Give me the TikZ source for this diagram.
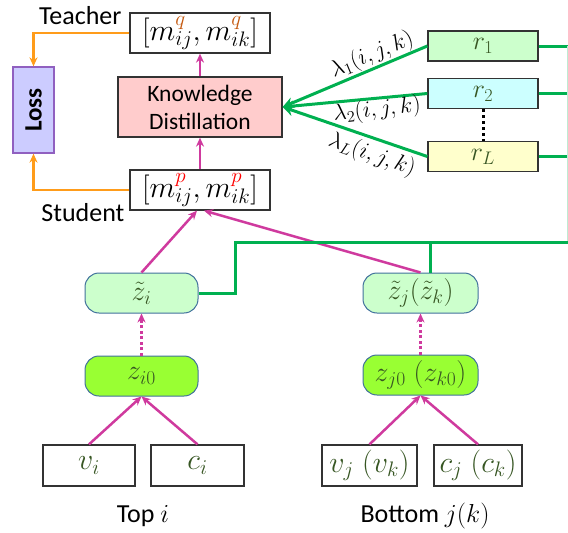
\RequirePackage{fix-cm}
\documentclass[tikz,border=0pt]{standalone}
\usepackage{fontspec}
\setmainfont{Carlito}
\usetikzlibrary{arrows.meta}
\definecolor{mag}{HTML}{CF3A9E}
\definecolor{grn}{HTML}{00B050}
\definecolor{org}{HTML}{FF9C1A}
\definecolor{mgreen}{HTML}{375623}
\definecolor{qcol}{HTML}{C55A11}
\definecolor{lossfill}{HTML}{CCCCFF}
\definecolor{lossdraw}{HTML}{9060C0}
\definecolor{kdfill}{HTML}{FFCCCC}
\definecolor{zfill}{HTML}{CCFFCC}
\definecolor{zzfill}{HTML}{99FF33}
\definecolor{zdraw}{HTML}{41719C}
\definecolor{r2fill}{HTML}{CCFFFF}
\definecolor{rLfill}{HTML}{FFFFCC}
\begin{document}
\begin{tikzpicture}[x=1pt,y=-1pt,
  box/.style={draw=black!80, line width=1.3pt, inner sep=0pt, fill=white},
  rbox/.style={box, minimum width=110pt, minimum height=30pt, font=\fontsize{26}{28}\selectfont, text=mgreen},
  zbox/.style={draw=zdraw, line width=1pt, rounded corners=14pt, minimum height=40pt, inner sep=0pt, font=\fontsize{28}{30}\selectfont, text=mgreen},
  inbox/.style={box, minimum height=41pt, font=\fontsize{30}{32}\selectfont, text=mgreen},
  mbox/.style={box, minimum width=140pt, minimum height=40pt, font=\fontsize{30}{32}\selectfont},
  lbl/.style={font=\fontsize{26}{28}\selectfont},
  marr/.style={draw=mag, line width=2.5pt, -{Stealth[length=9pt,width=8pt]}},
  mdot/.style={marr, dash pattern=on 3pt off 2.5pt},
  oarr/.style={draw=org, line width=2.5pt, -{Stealth[length=9pt,width=8pt]}},
  garr/.style={draw=grn, line width=3pt, -{Stealth[length=11pt,width=11pt]}},
  gline/.style={draw=grn, line width=3pt},
  lam/.style={font=\fontsize{23}{25}\selectfont, inner sep=0pt}
]
\useasboundingbox (0,0) rectangle (568,533);

% top boxes
\node[mbox] (T) at (200,33) {$[m_{ij}^{\textcolor{qcol}{q}},m_{ik}^{\textcolor{qcol}{q}}]$};
\node[mbox] (S) at (200,190) {$[m_{ij}^{\textcolor{red}{p}},m_{ik}^{\textcolor{red}{p}}]$};
\node[lbl, anchor=east] (tlab) at (125,16) {Teacher};
\node[lbl, anchor=east] (slab) at (128,213) {Student};
\node[draw=lossdraw, line width=1.3pt, fill=lossfill, rotate=90, minimum width=86pt, minimum height=41pt, inner sep=0pt, font=\fontsize{25}{27}\selectfont\bfseries] (L) at (33.5,110) {Loss};
\node[box, fill=kdfill, minimum width=164pt, minimum height=60pt, align=center, font=\fontsize{23.5}{28}\selectfont] (KD) at (200,107) {Knowledge\\Distillation};

% r boxes
\node[rbox, fill=zfill] (r1) at (483,46) {$r_1$};
\node[rbox, fill=r2fill] (r2) at (483,93.5) {$r_2$};
\node[rbox, fill=rLfill] (rL) at (483,156.5) {$r_L$};

% z boxes
\node[zbox, fill=zfill, minimum width=113pt] (zti) at (141.5,293) {$\tilde{z}_i$};
\node[zbox, fill=zzfill, minimum width=113pt] (zi) at (141.5,376) {$z_{i0}$};
\node[zbox, fill=zfill, minimum width=115pt] (ztj) at (420.5,293) {$\tilde{z}_j(\tilde{z}_k)$};
\node[zbox, fill=zzfill, minimum width=115pt] (zj) at (420.5,375) {$z_{j0}\;(z_{k0})$};

% inputs
\node[inbox, minimum width=92pt] (vi) at (89,465.5) {$v_i$};
\node[inbox, minimum width=93pt] (ci) at (197.5,465.5) {$c_i$};
\node[inbox, minimum width=95pt] (vj) at (369.5,465.5) {$v_j\;(v_k)$};
\node[inbox, minimum width=88pt] (cj) at (478,465.5) {$c_j\;(c_k)$};
\node[lbl] (topi) at (143,516) {Top $i$};
\node[lbl] (botj) at (425,516) {Bottom $j(k)$};

% orange loss connectors
\draw[oarr] (T.west) -| (L.east);
\draw[oarr] (S.west) -| (L.west);

% magenta
\draw[marr] (KD.north) -- (T.south);
\draw[marr] (S.north) -- (KD.south);
\draw[marr] (vi.north) -- (zi.south);
\draw[marr] (ci.north) -- (zi.south);
\draw[marr] (vj.north) -- (zj.south);
\draw[marr] (cj.north) -- (zj.south);
\draw[mdot] (zi.north) -- (zti.south);
\draw[mdot] (zj.north) -- (ztj.south);
\draw[marr] (zti.north) -- ([xshift=-3pt]S.south);
\draw[marr] (ztj.north) -- ([xshift=4pt]S.south);

% green
\coordinate (kdin) at (KD.east);
\draw[garr] (r1.west) -- (kdin);
\draw[garr] (r2.west) -- (kdin);
\draw[garr] (rL.west) -- (kdin);
\draw[line width=3pt, dash pattern=on 3pt off 3pt] (r2.south) -- (rL.north);
\node[lam, rotate=22.5] (l1) at (372,55) {$\lambda_1(i,j,k)$};
\node[lam, rotate=6] (l2) at (377,110) {$\lambda_2(i,j,k)$};
\node[lam, rotate=-19.5] (l3) at (372,155) {$\lambda_L(i,j,k)$};

\coordinate (e1) at (568,46);
\coordinate (e2) at (568,93.5);
\coordinate (e3) at (568,156.5);
\coordinate (eb) at (568,242);
\coordinate (g1) at (235,242);
\coordinate (g2) at (235,293);
\coordinate (g3) at (430,242);
\draw[gline] (r1.east) -- (e1);
\draw[gline] (r2.east) -- (e2);
\draw[gline] (rL.east) -- (e3);
\draw[draw=grn!25, line width=1pt] (567.5,46) -- (567.5,242);
\draw[gline] (eb) -- (g1) -- (g2) -- (zti.east);
\draw[gline] (g3) -- (g3 |- ztj.north);
\end{tikzpicture}
\end{document}
